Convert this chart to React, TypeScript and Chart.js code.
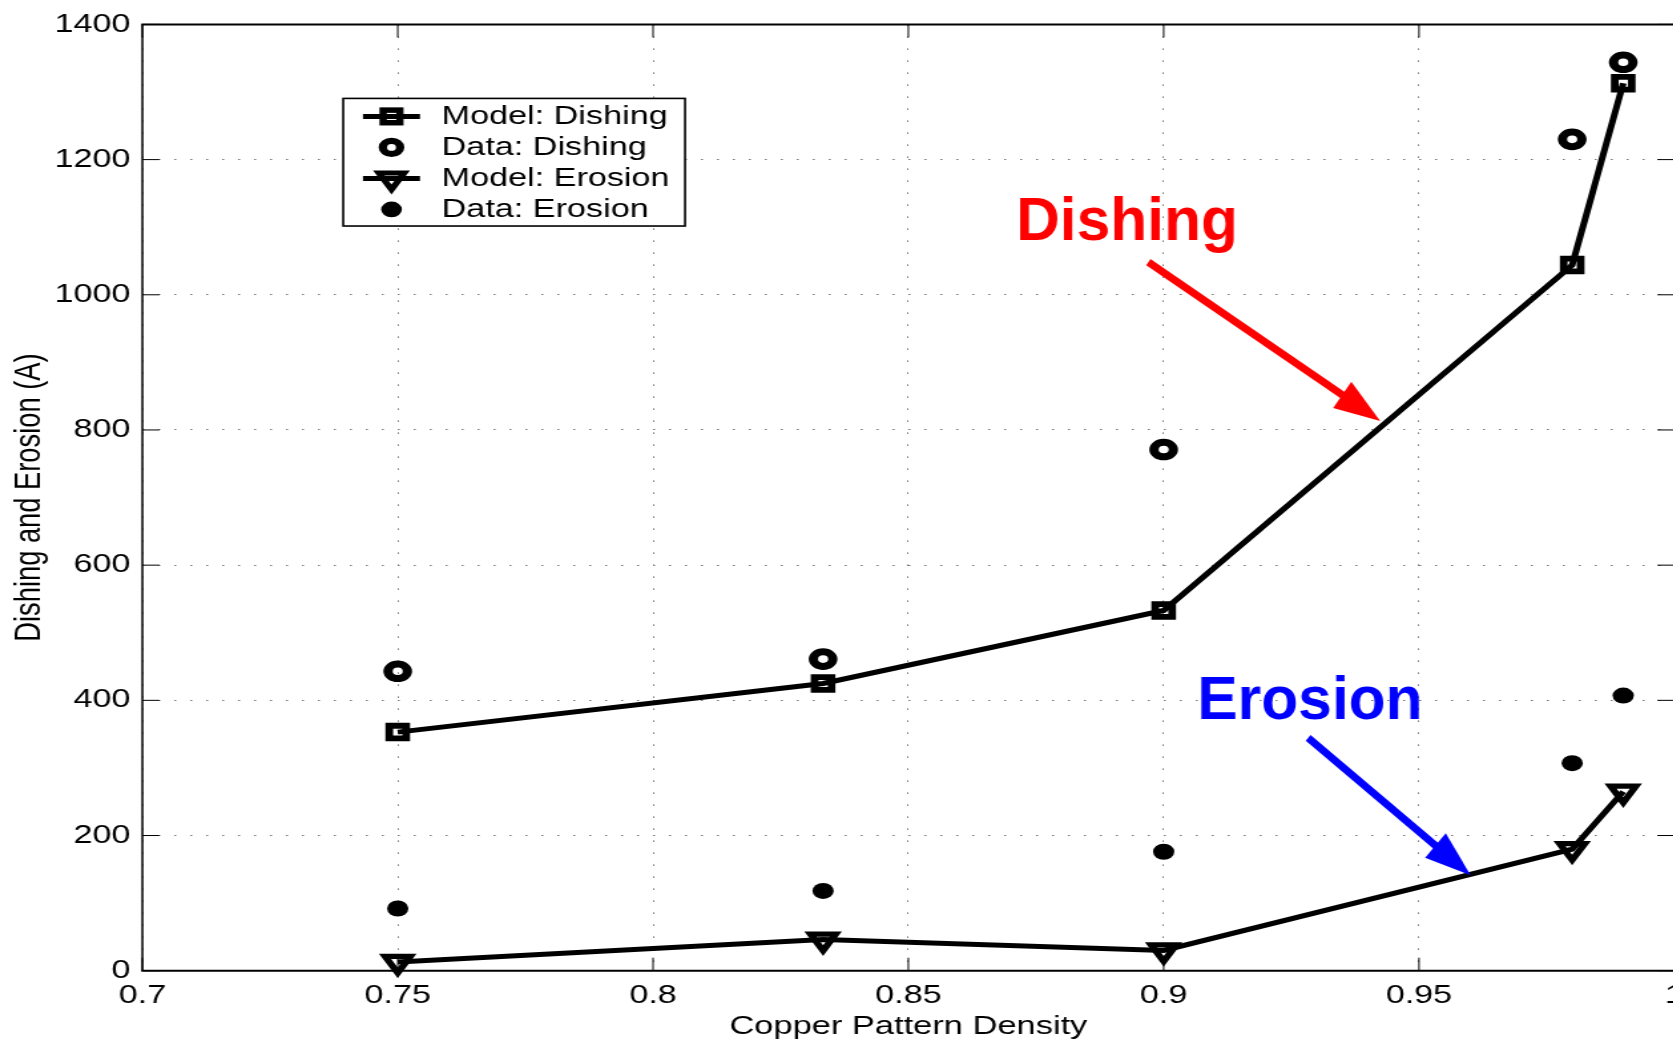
import React, { useEffect, useRef } from 'react';
import { Chart, registerables } from 'chart.js';

Chart.register(...registerables);

// ---------- data ----------
const DENSITY = [0.75, 0.8333, 0.9, 0.98, 0.99];
const MODEL_DISHING = [353, 425, 533, 1044, 1313];
const DATA_DISHING = [443, 461, 771, 1230, 1344];
const MODEL_EROSION = [13, 46, 30, 180, 265];
const DATA_EROSION = [92, 118, 176, 307, 407];

const X_TICKS = [0.7, 0.75, 0.8, 0.85, 0.9, 0.95, 1];
const Y_TICKS = [0, 200, 400, 600, 800, 1000, 1200, 1400];

const SERIES_NAMES = ['Model: Dishing', 'Data: Dishing', 'Model: Erosion', 'Data: Erosion'];
const X_TITLE = 'Copper Pattern Density';
const Y_TITLE = 'Dishing and Erosion (A)';

const CALLOUT_TEXT = ['Dishing', 'Erosion'];
const CALLOUT_COLORS = ['#ff0000', '#0000ff'];
// data-space anchors for the callouts (text baseline-left, arrow tail, arrow tip)
const CALLOUT_TEXT_AT = [[0.8711, 1080.5], [0.9066, 372.3]];
const CALLOUT_FROM = [[0.897, 1048.4], [0.9283, 344.3]];
const CALLOUT_TO = [[0.9424, 813.4], [0.9601, 141.2]];

// ---------- layout ----------
const SX = 1.33; // horizontal stretch of the original figure
const W0 = 1280;
const H = 1042;
const FONT = '"Liberation Sans", Arial, Helvetica, sans-serif';

const pts = (ys: number[]) => DENSITY.map((x, i) => ({ x, y: ys[i] }));

function drawMarker(ctx: CanvasRenderingContext2D, kind: string, x: number, y: number) {
  ctx.save();
  ctx.strokeStyle = '#000';
  ctx.fillStyle = '#000';
  if (kind === 'rect') {
    ctx.lineWidth = 5.5;
    const s = 6.3;
    ctx.strokeRect(x - s, y - s, 2 * s, 2 * s);
  } else if (kind === 'ring') {
    ctx.lineWidth = 6.3;
    ctx.beginPath();
    ctx.arc(x, y, 6.5, 0, Math.PI * 2);
    ctx.stroke();
  } else if (kind === 'tri') {
    ctx.lineWidth = 5;
    const r = 11;
    ctx.beginPath();
    ctx.moveTo(x, y + r);
    ctx.lineTo(x - r * 0.866, y - r / 2);
    ctx.lineTo(x + r * 0.866, y - r / 2);
    ctx.closePath();
    ctx.stroke();
  } else {
    ctx.beginPath();
    ctx.arc(x, y, 7.8, 0, Math.PI * 2);
    ctx.fill();
  }
  ctx.restore();
}

const framePlugin = {
  id: 'frame',
  beforeDatasetsDraw(chart: any) {
    const { ctx, chartArea: a, scales } = chart;
    ctx.save();
    ctx.strokeStyle = '#000';
    ctx.lineWidth = 1;
    ctx.beginPath();
    X_TICKS.forEach((v) => {
      const px = scales.x.getPixelForValue(v);
      ctx.moveTo(px, a.bottom);
      ctx.lineTo(px, a.bottom - 13);
      ctx.moveTo(px, a.top);
      ctx.lineTo(px, a.top + 13);
    });
    Y_TICKS.forEach((v) => {
      const py = scales.y.getPixelForValue(v);
      ctx.moveTo(a.left, py);
      ctx.lineTo(a.left + 12.8, py);
      ctx.moveTo(a.right, py);
      ctx.lineTo(a.right - 12.8, py);
    });
    ctx.stroke();
    ctx.lineWidth = 2;
    ctx.beginPath();
    ctx.moveTo(a.left - 0.8, a.top);
    ctx.lineTo(a.right + 0.8, a.top);
    ctx.moveTo(a.left - 0.8, a.bottom);
    ctx.lineTo(a.right + 0.8, a.bottom);
    ctx.stroke();
    ctx.lineWidth = 1.5;
    ctx.beginPath();
    ctx.moveTo(a.left, a.top);
    ctx.lineTo(a.left, a.bottom);
    ctx.moveTo(a.right, a.top);
    ctx.lineTo(a.right, a.bottom);
    ctx.stroke();
    ctx.restore();
  },
};

const legendPlugin = {
  id: 'boxLegend',
  afterDraw(chart: any) {
    const { ctx, chartArea: a } = chart;
    const left = a.left + 151;
    const top = a.top + 74;
    const w = 257;
    const h = 127.6;
    ctx.save();
    ctx.fillStyle = '#fff';
    ctx.fillRect(left, top, w, h);
    ctx.strokeStyle = '#000';
    ctx.lineWidth = 1.6;
    ctx.strokeRect(left, top, w, h);
    const kinds = ['rect', 'ring', 'tri', 'dot'];
    const lined = [true, false, true, false];
    SERIES_NAMES.forEach((name, i) => {
      const y = top + 18 + i * 31;
      const mx = left + 36.3;
      if (lined[i]) {
        ctx.strokeStyle = '#000';
        ctx.lineWidth = 5;
        ctx.beginPath();
        ctx.moveTo(left + 14.8, y);
        ctx.lineTo(left + 57.7, y);
        ctx.stroke();
      }
      drawMarker(ctx, kinds[i], mx, y);
      ctx.fillStyle = '#000';
      ctx.font = `25.7px ${FONT}`;
      ctx.textBaseline = 'middle';
      ctx.textAlign = 'left';
      ctx.fillText(name, left + 74, y);
    });
    ctx.restore();
  },
};

const calloutPlugin = {
  id: 'callouts',
  afterDatasetsDraw(chart: any) {
    const { ctx, scales } = chart;
    const fx = (v: number) => scales.x.getPixelForValue(v) * SX;
    const fy = (v: number) => scales.y.getPixelForValue(v);
    ctx.save();
    ctx.scale(1 / SX, 1);
    CALLOUT_TEXT.forEach((txt, i) => {
      const color = CALLOUT_COLORS[i];
      ctx.fillStyle = color;
      ctx.strokeStyle = color;
      ctx.font = `bold 60.5px ${FONT}`;
      ctx.textBaseline = 'alphabetic';
      ctx.textAlign = 'left';
      ctx.fillText(txt, fx(CALLOUT_TEXT_AT[i][0]), fy(CALLOUT_TEXT_AT[i][1]));
      const x0 = fx(CALLOUT_FROM[i][0]);
      const y0 = fy(CALLOUT_FROM[i][1]);
      const x1 = fx(CALLOUT_TO[i][0]);
      const y1 = fy(CALLOUT_TO[i][1]);
      const len = Math.hypot(x1 - x0, y1 - y0);
      const ux = (x1 - x0) / len;
      const uy = (y1 - y0) / len;
      const headLen = 46;
      const halfW = 16;
      const bx = x1 - ux * headLen;
      const by = y1 - uy * headLen;
      ctx.lineWidth = 7.5;
      ctx.lineCap = 'butt';
      ctx.beginPath();
      ctx.moveTo(x0, y0);
      ctx.lineTo(bx + ux * 4, by + uy * 4);
      ctx.stroke();
      ctx.beginPath();
      ctx.moveTo(x1, y1);
      ctx.lineTo(bx - uy * halfW, by + ux * halfW);
      ctx.lineTo(bx + uy * halfW, by - ux * halfW);
      ctx.closePath();
      ctx.fill();
    });
    ctx.restore();
  },
};

export default function App() {
  const ref = useRef<HTMLCanvasElement | null>(null);

  useEffect(() => {
    if (!ref.current) return;
    const tickFont = { family: FONT, size: 25.7 };
    const chart = new Chart(ref.current, {
      type: 'scatter',
      data: {
        datasets: [
          {
            label: SERIES_NAMES[0],
            data: pts(MODEL_DISHING),
            showLine: true,
            borderColor: '#000',
            borderWidth: 5,
            tension: 0,
            pointStyle: 'rect',
            pointRadius: 9,
            pointBorderWidth: 5.8,
            pointBorderColor: '#000',
            pointBackgroundColor: 'rgba(0,0,0,0)',
            clip: false,
          },
          {
            label: SERIES_NAMES[1],
            data: pts(DATA_DISHING),
            showLine: false,
            pointStyle: 'circle',
            pointRadius: 7.3,
            pointBorderWidth: 7,
            pointBorderColor: '#000',
            pointBackgroundColor: 'rgba(0,0,0,0)',
            clip: false,
          },
          {
            label: SERIES_NAMES[2],
            data: pts(MODEL_EROSION),
            showLine: true,
            borderColor: '#000',
            borderWidth: 5,
            tension: 0,
            pointStyle: 'triangle',
            pointRotation: 180,
            pointRadius: 11,
            pointBorderWidth: 5.3,
            pointBorderColor: '#000',
            pointBackgroundColor: 'rgba(0,0,0,0)',
            clip: false,
          },
          {
            label: SERIES_NAMES[3],
            data: pts(DATA_EROSION),
            showLine: false,
            pointStyle: 'circle',
            pointRadius: 8,
            pointBorderWidth: 0,
            pointBackgroundColor: '#000',
            clip: false,
          },
        ],
      },
      options: {
        animation: false,
        responsive: false,
        devicePixelRatio: 1,
        events: [],
        layout: { padding: { top: 21.7, right: W0 - 1674.3 / SX, bottom: 0, left: 0 } },
        plugins: { legend: { display: false }, tooltip: { enabled: false } },
        scales: {
          x: {
            type: 'linear',
            min: 0.7,
            max: 1.0,
            afterBuildTicks: (s: any) => {
              s.ticks = X_TICKS.map((v) => ({ value: v }));
            },
            afterFit: (s: any) => {
              s.height = H - 970.7;
            },
            ticks: {
              callback: (v: any) => String(v),
              font: tickFont,
              color: '#000',
              padding: 10,
              maxRotation: 0,
              autoSkip: false,
            },
            grid: { color: '#777', lineWidth: 1, drawTicks: false, borderDash: [1.5, 10.5] } as any,
            border: { display: false, dash: [1.5, 10.5] },
            title: { display: true, text: X_TITLE, font: { family: FONT, size: 25.9 }, color: '#000', padding: 0 },
          },
          y: {
            type: 'linear',
            min: 0,
            max: 1400,
            afterBuildTicks: (s: any) => {
              s.ticks = Y_TICKS.map((v) => ({ value: v }));
            },
            afterFit: (s: any) => {
              s.width = 142.4 / SX;
            },
            ticks: {
              callback: (v: any) => String(v),
              font: tickFont,
              color: '#000',
              padding: 9,
              autoSkip: false,
            },
            grid: { color: '#777', lineWidth: 1, drawTicks: false, borderDash: [1.5, 10.5] } as any,
            border: { display: false, dash: [1.5, 10.5] },
            title: {
              display: true,
              text: Y_TITLE,
              font: { family: FONT, size: 27.3 },
              color: '#000',
              padding: { top: 6, bottom: 0 },
            },
          },
        },
      } as any,
      plugins: [framePlugin, calloutPlugin, legendPlugin],
    });
    return () => chart.destroy();
  }, []);

  return (
    <div
      style={{
        position: 'fixed',
        left: 0,
        top: 0,
        width: 1673,
        height: H,
        overflow: 'hidden',
        background: '#fff',
      }}
    >
      <div style={{ width: W0, height: H, transform: `scaleX(${SX})`, transformOrigin: '0 0' }}>
        <canvas ref={ref} width={W0} height={H} style={{ width: W0, height: H, display: 'block' }} />
      </div>
    </div>
  );
}
